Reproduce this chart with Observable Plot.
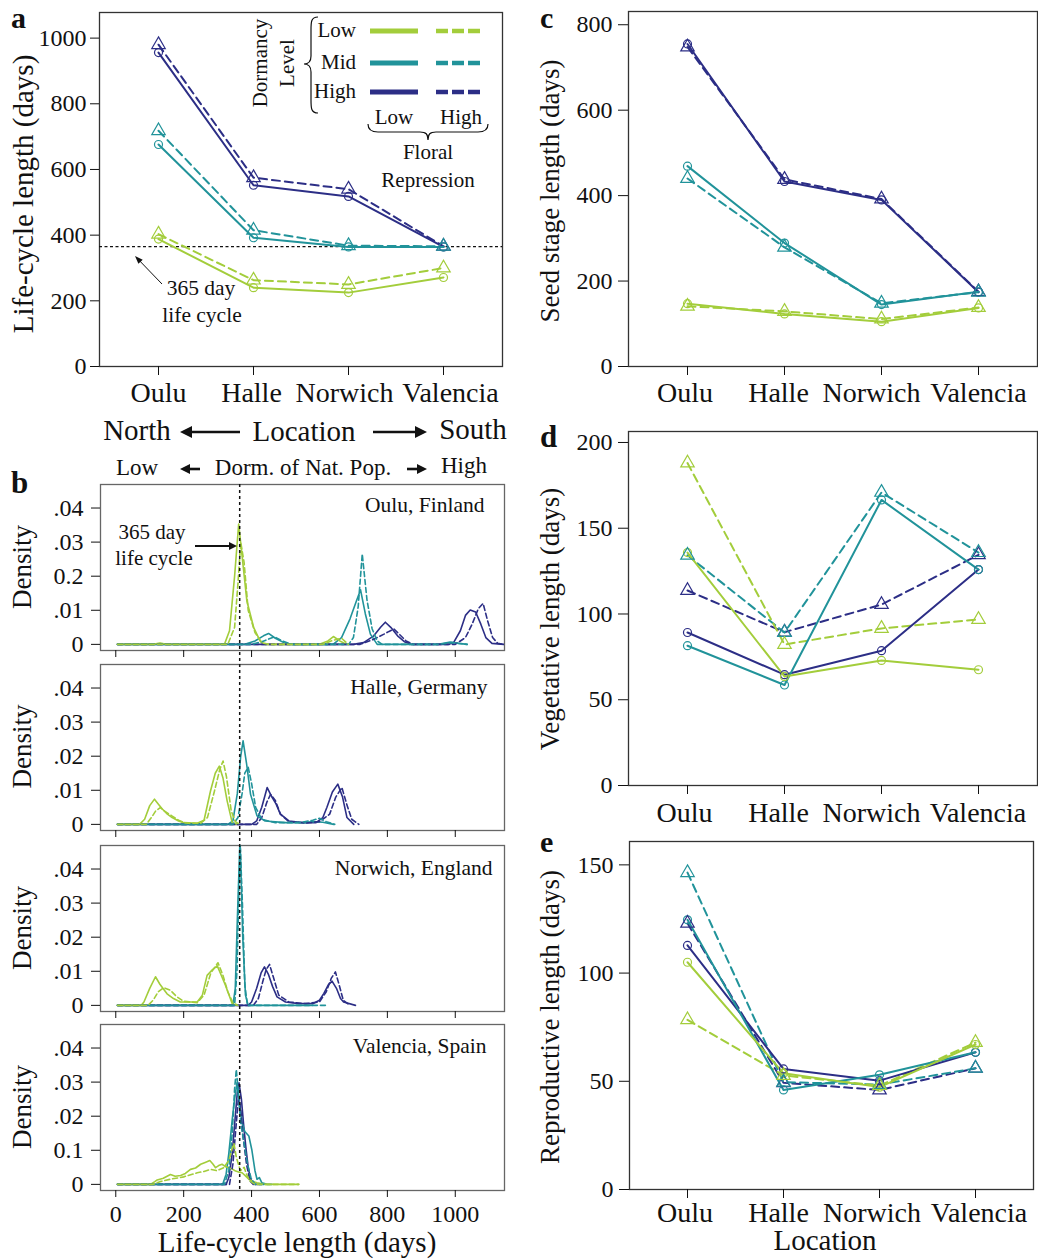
<!DOCTYPE html>
<html>
<head>
<meta charset="utf-8">
<script src="https://cdn.jsdelivr.net/npm/d3@7"></script>
<script src="https://cdn.jsdelivr.net/npm/@observablehq/plot@0.6"></script>
<style>
  html, body { margin: 0; padding: 0; background: #fff; }
  #fig { position: relative; width: 1038px; height: 1260px; overflow: hidden; background: #fff;
         font-family: "Liberation Serif", "Times New Roman", serif; color: #111; }
</style>
</head>
<body>
<div id="fig"></div>
<script>
// ---------------- data ----------------
const locations = ["Oulu", "Halle", "Norwich", "Valencia"];
const dormancyLevels = ["Low", "Mid", "High"];
const dormancyColors = ["#a3cd3b", "#21939a", "#2c2e86"];

// Rows: dormancy Low, Mid, High. Columns: Oulu, Halle, Norwich, Valencia.
// "LowRep" = low floral repression (solid, circles), "HighRep" = high floral repression (dashed, triangles)
const lifeCycleLowRep  = [[388, 240, 225, 271], [676, 392, 364, 364], [956, 552, 518, 364]];
const lifeCycleHighRep = [[403, 263, 250, 300], [718, 415, 368, 366], [980, 575, 540, 366]];
const seedLowRep  = [[147, 123, 105, 137], [469, 289, 145, 175], [755, 433, 390, 174]];
const seedHighRep = [[141, 129, 111, 138], [440, 279, 148, 174], [748, 438, 392, 175]];
const vegLowRep  = [[135.8, 63.6, 72.9, 67.5], [81.5, 58.6, 166.5, 125.9], [89.2, 64.6, 78.6, 125.9]];
const vegHighRep = [[188, 82.2, 91.6, 96.8], [134.2, 89.2, 170.9, 135.8], [113.7, 89.4, 105.5, 134.5]];
const reproLowRep  = [[105, 53.7, 47.3, 67], [124.6, 46, 53, 63.4], [112.8, 55.7, 50.3, 63.4]];
const reproHighRep = [[78.4, 52.7, 48, 67.9], [146.4, 49.6, 48.5, 56], [123, 49.3, 46, 56]];

const lifeCycleThreshold = 365;

// Density of life-cycle length: [day, density] points.
// Series order: Low/LowRep, Low/HighRep, Mid/LowRep, Mid/HighRep, High/LowRep, High/HighRep
const densityOulu = [
  [[5,0],[110,0],[130,0.0004],[150,0],[320,0],[335,0.004],[350,0.02],[362,0.0353],[372,0.026],[386,0.0128],[406,0.005],[426,0.0008],[440,0],[600,0],[625,0.001],[641,0.0023],[660,0.001],[680,0]],
  [[5,0],[330,0],[350,0.005],[360,0.018],[368,0.03],[378,0.024],[390,0.01],[410,0.0035],[430,0.0005],[450,0],[610,0],[640,0.0012],[665,0.0018],[685,0]],
  [[5,0],[380,0],[410,0.001],[435,0.0025],[450,0.0032],[470,0.0018],[495,0.0005],[520,0],[640,0],[665,0.002],[690,0.0075],[708,0.0125],[721,0.016],[735,0.009],[750,0.003],[770,0],[950,0],[985,0.0007],[1010,0.0003],[1035,0]],
  [[5,0],[400,0],[430,0.0008],[468,0.0022],[490,0.001],[520,0],[686,0],[700,0.002],[714,0.011],[726,0.0265],[740,0.013],[755,0.0046],[770,0.001],[785,0],[950,0],[990,0.0005],[1035,0]],
  [[5,0],[700,0],[730,0.0005],[760,0.0025],[780,0.005],[794,0.0065],[810,0.005],[830,0.0025],[850,0.0008],[870,0],[980,0],[995,0.0005],[1015,0.004],[1030,0.0085],[1044,0.0101],[1060,0.0095],[1075,0.006],[1090,0.002],[1108,0.0003],[1143,0]],
  [[5,0],[720,0],[760,0.0015],[790,0.003],[805,0.0038],[819,0.0045],[835,0.003],[855,0.001],[875,0],[1000,0],[1030,0.002],[1050,0.006],[1068,0.0105],[1082,0.012],[1095,0.007],[1110,0.002],[1125,0.0003],[1145,0]]
];
const densityHalle = [
  [[5,0],[70,0],[85,0.0015],[100,0.0055],[114,0.0074],[125,0.006],[137,0.0045],[152,0.003],[166,0.002],[185,0.001],[200,0.0005],[240,0.0003],[260,0.0012],[279,0.0098],[293,0.015],[305,0.0171],[316,0.0135],[328,0.0069],[343,0.0005],[357,0]],
  [[5,0],[90,0],[105,0.002],[118,0.004],[131,0.0049],[145,0.0038],[165,0.0025],[185,0.0012],[205,0.0004],[250,0.0003],[270,0.002],[290,0.0095],[306,0.016],[316,0.0186],[326,0.014],[340,0.004],[352,0.0008],[365,0]],
  [[5,0],[330,0],[345,0.001],[358,0.009],[368,0.02],[375,0.0245],[385,0.018],[397,0.0088],[416,0.0025],[440,0.001],[500,0.0005],[560,0.0005],[580,0.0008],[610,0.0006],[642,0]],
  [[5,0],[345,0],[360,0.002],[372,0.009],[380,0.015],[390,0.0168],[400,0.012],[412,0.005],[430,0.0015],[470,0.0005],[540,0.0005],[580,0.0012],[600,0.0018],[620,0.0008],[645,0]],
  [[5,0],[400,0],[415,0.001],[430,0.005],[446,0.0108],[460,0.008],[472,0.006],[485,0.003],[510,0.001],[550,0.0005],[590,0.0005],[610,0.002],[622,0.005],[638,0.0095],[654,0.0118],[668,0.008],[681,0.002],[701,0]],
  [[5,0],[415,0],[430,0.002],[445,0.0065],[456,0.0088],[470,0.007],[485,0.003],[510,0.0008],[560,0.0004],[600,0.0008],[630,0.003],[648,0.008],[666,0.0108],[680,0.006],[695,0.0015],[716,0]]
];
const densityNorwich = [
  [[5,0],[75,0],[83,0.001],[100,0.005],[117,0.0084],[130,0.0062],[151,0.0034],[170,0.002],[190,0.001],[240,0.001],[255,0.003],[269,0.0088],[285,0.0105],[299,0.0116],[310,0.009],[323,0.0059],[343,0.0005],[355,0]],
  [[5,0],[95,0],[110,0.0015],[125,0.004],[141,0.0052],[160,0.0045],[180,0.0025],[200,0.0012],[240,0.0008],[260,0.003],[280,0.0095],[301,0.0125],[315,0.009],[330,0.004],[345,0.0008],[360,0]],
  [[5,0],[345,0],[352,0.005],[358,0.025],[366,0.049],[374,0.02],[382,0.003],[390,0],[580,0]],
  [[5,0],[350,0],[357,0.01],[363,0.035],[367,0.046],[373,0.03],[380,0.006],[388,0],[620,0]],
  [[5,0],[390,0],[400,0.001],[415,0.005],[428,0.0095],[438,0.0113],[450,0.009],[462,0.0055],[475,0.0025],[500,0.001],[540,0.0005],[580,0.0005],[600,0.0015],[613,0.0035],[626,0.006],[637,0.0071],[650,0.005],[662,0.002],[671,0.001],[706,0]],
  [[5,0],[405,0],[420,0.002],[433,0.007],[443,0.0105],[453,0.012],[465,0.008],[480,0.003],[510,0.001],[560,0.0005],[600,0.001],[620,0.004],[635,0.008],[647,0.0098],[658,0.006],[670,0.0015],[690,0]]
];
const densityValencia = [
  [[5,0],[102,0],[115,0.0008],[122,0.0013],[140,0.0018],[161,0.0029],[175,0.0024],[191,0.0026],[205,0.0032],[220,0.0044],[235,0.0048],[250,0.0059],[265,0.0065],[277,0.007],[286,0.006],[294,0.0049],[303,0.0055],[313,0.0059],[323,0.0052],[333,0.0049],[343,0.0045],[353,0.0039],[362,0.0036],[372,0.0034],[382,0.0025],[392,0.0015],[404,0.0008],[416,0.0005],[440,0],[539,0]],
  [[5,0],[110,0],[130,0.0008],[160,0.0015],[200,0.0022],[240,0.0034],[260,0.0038],[279,0.0044],[298,0.004],[318,0.0049],[333,0.007],[343,0.0105],[348,0.012],[355,0.008],[367,0.004],[378,0.005],[385,0.003],[395,0.001],[410,0],[539,0]],
  [[5,0],[315,0],[325,0.003],[333,0.0091],[343,0.019],[350,0.025],[357,0.0298],[364,0.024],[372,0.018],[380,0.0155],[392,0.0142],[401,0.01],[410,0.004],[416,0.0015],[423,0.002],[430,0.0005],[446,0],[460,0]],
  [[5,0],[320,0],[333,0.004],[343,0.015],[350,0.028],[355,0.0337],[360,0.028],[368,0.018],[378,0.012],[388,0.006],[398,0.002],[410,0],[440,0]],
  [[5,0],[325,0],[333,0.002],[343,0.009],[352,0.02],[358,0.027],[363,0.0298],[370,0.025],[377,0.017],[383,0.011],[390,0.005],[397,0.0015],[410,0],[430,0]],
  [[5,0],[335,0],[345,0.006],[355,0.018],[362,0.026],[368,0.022],[375,0.014],[385,0.006],[395,0.001],[405,0]]
];

const densitySites = ["Oulu, Finland", "Halle, Germany", "Norwich, England", "Valencia, Spain"];
const densityTicks = [0, 0.01, 0.02, 0.03, 0.04];
const densityTickLabels = [
  ["0", ".01", "0.2", ".03", ".04"],
  ["0", ".01", ".02", ".03", ".04"],
  ["0", ".01", ".02", ".03", ".04"],
  ["0", "0.1", ".02", ".03", ".04"]
];
const dayTicks = [0, 200, 400, 600, 800, 1000];

// ---------------- helpers ----------------
const fig = document.getElementById("fig");
const FONT = '"Liberation Serif", "Times New Roman", serif';
const baseStyle = {fontFamily: FONT, fontSize: "24px", color: "#111", background: "none", overflow: "visible"};
const colorScale = {domain: dormancyLevels, range: dormancyColors};

function place(node, left, top) {
  node.style.position = "absolute";
  node.style.left = left + "px";
  node.style.top = top + "px";
  fig.append(node);
}

function seriesRows(lowRep, highRep) {
  const low = [], high = [];
  for (let i = dormancyLevels.length - 1; i >= 0; i--) {
    locations.forEach((loc, j) => {
      low.push({loc, dorm: dormancyLevels[i], v: lowRep[i][j]});
      high.push({loc, dorm: dormancyLevels[i], v: highRep[i][j]});
    });
  }
  return {low, high};
}

function linePanel(o) {
  const {low, high} = seriesRows(o.lowRep, o.highRep);
  const marks = [Plot.frame({stroke: "#333", strokeWidth: 1.3})];
  if (o.rule != null) {
    marks.push(Plot.ruleY([o.rule], {stroke: "#111", strokeWidth: 1.4, strokeDasharray: "3,2.5"}));
  }
  marks.push(
    Plot.line(high, {x: "loc", y: "v", z: "dorm", stroke: "dorm", strokeWidth: 2, strokeDasharray: "8,5"}),
    Plot.line(low, {x: "loc", y: "v", z: "dorm", stroke: "dorm", strokeWidth: 2}),
    Plot.dot(low, {x: "loc", y: "v", stroke: "dorm", fill: "none", symbol: "circle", r: 4, strokeWidth: 1.2}),
    Plot.dot(high, {x: "loc", y: "v", stroke: "dorm", fill: "none", symbol: "triangle", r: 5, strokeWidth: 1.2}),
    Plot.axisX({tickSize: 9, tickFormat: () => "", label: null}),
    Plot.axisY({ticks: o.yTicks, tickSize: o.yTickSize, tickPadding: o.yTickPad, fontSize: 24, label: null, tickFormat: d => String(d)})
  );
  // category labels under the ticks, each nudged slightly sideways so the long names stay apart
  locations.forEach((loc, i) => {
    marks.push(Plot.text([loc], {x: d => d, text: d => d, frameAnchor: "bottom", lineAnchor: "top",
      dy: 9 + o.xPad, dx: o.labelShift[i], fontSize: 28, fill: "#111"}));
  });
  const svg = Plot.plot({
    width: o.width, height: o.height,
    marginTop: o.mt, marginBottom: o.mb, marginLeft: o.ml, marginRight: o.mr,
    x: {type: "point", domain: locations, padding: 0.6},
    y: {domain: [0, o.yMax]},
    color: colorScale,
    style: baseStyle,
    marks
  });
  place(svg, o.left, o.top);
}

function densityRows(series) {
  const rows = [];
  for (let k = series.length - 1; k >= 0; k--) {
    const dorm = dormancyLevels[Math.floor(k / 2)];
    const rep = k % 2 ? "High" : "Low";
    series[k].forEach(([day, d]) => rows.push({day, d, dorm, rep, id: k}));
  }
  return rows;
}

const dayDomain = [-45, 1145];
const densityDomain = [-0.0018, 0.0469];
const frameH = 166;

function densityPanel(series, idx, frameTop, last, textDx, textDy) {
  const rows = densityRows(series);
  const mb = last ? 44 : 12;
  const svg = Plot.plot({
    width: 520, height: 2 + frameH + mb,
    marginTop: 2, marginBottom: mb, marginLeft: 100, marginRight: 16,
    x: {domain: dayDomain},
    y: {domain: densityDomain},
    color: colorScale,
    style: baseStyle,
    marks: [
      Plot.frame({stroke: "#666", strokeWidth: 1.3}),
      Plot.line(rows.filter(r => r.rep === "Low"), {x: "day", y: "d", z: "id", stroke: "dorm", strokeWidth: 1.6, clip: true}),
      Plot.line(rows.filter(r => r.rep === "High"), {x: "day", y: "d", z: "id", stroke: "dorm", strokeWidth: 1.6, strokeDasharray: "5,3", clip: true}),
      Plot.text([densitySites[idx]], {text: d => d, frameAnchor: "top-right", dx: textDx, dy: textDy, fontSize: 21.5, fill: "#111"}),
      Plot.axisX({ticks: dayTicks, tickSize: 7, tickPadding: 7, fontSize: 24, label: null,
                  tickFormat: last ? (d => String(d)) : (() => "")}),
      Plot.axisY({ticks: densityTicks, tickSize: 9, tickPadding: 8, fontSize: 24, label: null,
                  tickFormat: (d, i) => densityTickLabels[idx][i]})
    ]
  });
  place(svg, 0, frameTop - 2);
}

// ---------------- panels ----------------
// a: life-cycle length
linePanel({lowRep: lifeCycleLowRep, highRep: lifeCycleHighRep, yMax: 1078, yTicks: [0, 200, 400, 600, 800, 1000],
  rule: lifeCycleThreshold, left: 0, top: 0, width: 520, height: 420, mt: 12, mb: 54, ml: 99, mr: 18,
  yTickSize: 9, yTickPad: 4, xPad: 7, labelShift: [0, -2, -4, 7]});

// c: seed stage length
linePanel({lowRep: seedLowRep, highRep: seedHighRep, yMax: 831, yTicks: [0, 200, 400, 600, 800],
  left: 520, top: 0, width: 518, height: 420, mt: 11, mb: 54, ml: 108, mr: 1,
  yTickSize: 10, yTickPad: 6, xPad: 7, labelShift: [-2.5, -6, -10, 0]});

// d: vegetative length
linePanel({lowRep: vegLowRep, highRep: vegHighRep, yMax: 206.4, yTicks: [0, 50, 100, 150, 200],
  left: 520, top: 420, width: 518, height: 420, mt: 11, mb: 55, ml: 108, mr: 1,
  yTickSize: 10, yTickPad: 6, xPad: 8, labelShift: [-3, -6, -10, -0.5]});

// e: reproductive length
linePanel({lowRep: reproLowRep, highRep: reproHighRep, yMax: 160.8, yTicks: [0, 50, 100, 150],
  left: 520, top: 830, width: 518, height: 430, mt: 11, mb: 71, ml: 109, mr: 5,
  yTickSize: 10, yTickPad: 6, xPad: 4, labelShift: [-2.5, -5, -7.5, 3.5]});

// b: density of life-cycle length per site
densityPanel(densityOulu, 0, 484, false, -20, 12);
densityPanel(densityHalle, 1, 663.5, false, -17, 14);
densityPanel(densityNorwich, 2, 845, false, -12, 14);
densityPanel(densityValencia, 3, 1024, true, -18, 13);

// 365-day reference line running through all four density panels
place(Plot.plot({
  width: 520, height: 706, marginTop: 0, marginBottom: 0, marginLeft: 100, marginRight: 16,
  x: {domain: dayDomain, axis: null},
  style: baseStyle,
  marks: [Plot.ruleX([lifeCycleThreshold], {stroke: "#111", strokeWidth: 1.5, strokeDasharray: "3,3"})]
}), 0, 484);

// ---------------- titles, legend and annotations ----------------
function txt(x, yc, size, s, opts = {}) {
  const anchor = opts.anchor || "middle";
  const weight = opts.weight || "normal";
  if (opts.rotate) {
    return `<text transform="translate(${x},${yc}) rotate(-90)" text-anchor="${anchor}" dy="${0.34 * size}" font-size="${size}" font-weight="${weight}">${s}</text>`;
  }
  return `<text x="${x}" y="${yc + 0.34 * size}" text-anchor="${anchor}" font-size="${size}" font-weight="${weight}">${s}</text>`;
}
function arrow(x1, y1, x2, y2, w, hl, hw) {
  const dx = x2 - x1, dy = y2 - y1, L = Math.hypot(dx, dy), ux = dx / L, uy = dy / L;
  const bx = x2 - ux * hl, by = y2 - uy * hl, px = -uy * hw / 2, py = ux * hw / 2;
  return `<line x1="${x1}" y1="${y1}" x2="${bx + ux}" y2="${by + uy}" stroke="#111" stroke-width="${w}"/>` +
         `<polygon points="${x2},${y2} ${bx + px},${by + py} ${bx - px},${by - py}" fill="#111"/>`;
}

let ov = "";
// panel letters
ov += `<text x="11" y="28" font-size="30" font-weight="bold">a</text>`;
ov += `<text x="11" y="493" font-size="31" font-weight="bold">b</text>`;
ov += `<text x="540" y="28" font-size="30" font-weight="bold">c</text>`;
ov += `<text x="540" y="447" font-size="31" font-weight="bold">d</text>`;
ov += `<text x="540" y="852" font-size="30" font-weight="bold">e</text>`;

// axis titles
ov += txt(23, 194, 29, "Life-cycle length (days)", {rotate: true});
ov += txt(550, 191, 27, "Seed stage length (days)", {rotate: true});
ov += txt(550, 619, 27, "Vegetative length (days)", {rotate: true});
ov += txt(550, 1017, 27, "Reproductive length (days)", {rotate: true});
[567, 746.5, 928, 1107].forEach(y => { ov += txt(22, y, 27, "Density", {rotate: true}); });
ov += txt(297, 1242, 29, "Life-cycle length (days)");
ov += txt(825, 1240, 29, "Location");

// location / latitude rows under panel a
ov += txt(137, 430, 29, "North") + txt(304, 431, 29, "Location") + txt(473, 429, 29, "South");
ov += arrow(240, 432, 180, 432, 2.6, 12, 12) + arrow(373, 432, 427, 432, 2.6, 12, 12);
ov += txt(137, 467.5, 23, "Low") + txt(303, 467, 23, "Dorm. of Nat. Pop.") + txt(464, 465, 23, "High");
ov += arrow(200, 469, 180, 469, 2.6, 10, 10) + arrow(407, 469, 427, 469, 2.6, 10, 10);

// 365-day annotations
ov += txt(201, 288, 21.5, "365 day") + txt(202, 315, 21.5, "life cycle");
ov += arrow(162, 284, 135, 256, 1, 8, 6);
ov += txt(152, 532, 21, "365 day") + txt(154, 558, 21, "life cycle");
ov += arrow(195, 546, 237, 546, 2, 8, 8);

// legend: dormancy level (colour) x floral repression (line style)
ov += txt(260, 63, 21, "Dormancy", {rotate: true}) + txt(287, 63, 21, "Level", {rotate: true});
ov += `<path d="M318,17 C311,17 311,22 311,30 L311,56 C311,62 308,64 304,64 C308,64 311,66 311,72 L311,100 C311,108 311,113 318,113" fill="none" stroke="#111" stroke-width="1.2"/>`;
const legendRows = [30, 62, 91];
dormancyLevels.forEach((lvl, i) => {
  ov += txt(356, legendRows[i], 21, lvl, {anchor: "end"});
  ov += `<line x1="370" x2="418" y1="${legendRows[i] + 1}" y2="${legendRows[i] + 1}" stroke="${dormancyColors[i]}" stroke-width="5"/>`;
  ov += `<line x1="436" x2="480" y1="${legendRows[i] + 1}" y2="${legendRows[i] + 1}" stroke="${dormancyColors[i]}" stroke-width="4.5" stroke-dasharray="12,4"/>`;
});
ov += txt(394, 117, 21, "Low") + txt(461, 117, 21, "High");
ov += `<path d="M368,124 C368,130 372,132 378,132 L420,132 C426,132 428,134 428,140 C428,134 430,132 436,132 L478,132 C484,132 488,130 488,124" fill="none" stroke="#111" stroke-width="1.2"/>`;
ov += txt(428, 152, 21, "Floral") + txt(428, 180, 21, "Repression");

const overlay = document.createElementNS("http://www.w3.org/2000/svg", "svg");
overlay.setAttribute("width", 1038);
overlay.setAttribute("height", 1260);
overlay.setAttribute("font-family", FONT);
overlay.setAttribute("fill", "#111");
overlay.style.pointerEvents = "none";
overlay.innerHTML = ov;
place(overlay, 0, 0);
</script>
</body>
</html>
